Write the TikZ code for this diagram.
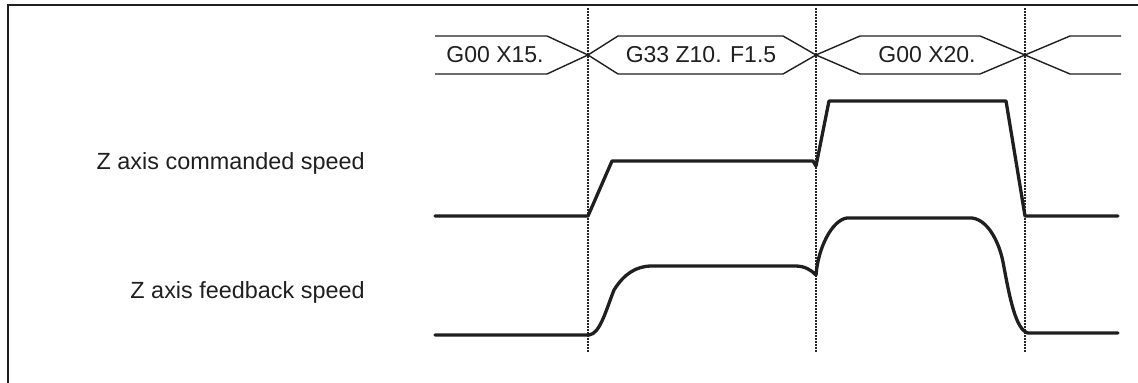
\documentclass[tikz,border=0pt]{standalone}
\usepackage{fontspec}
\setmainfont{Liberation Sans}
\begin{document}
\begin{tikzpicture}[x=0.5pt,y=-0.5pt,
  ink/.style={draw=black!88},
  frame/.style={ink,line width=1pt},
  guide/.style={draw=black!85,line width=0.6pt,dash pattern=on 1pt off 0.5pt},
  bus/.style={ink,line width=0.7pt,line join=miter},
  trace/.style={ink,line width=1.65pt,line join=round,line cap=round},
  lbl/.style={font=\fontsize{11.7}{14}\selectfont,text=black!88,inner sep=0pt},
  buslbl/.style={font=\fontsize{11.5}{14}\selectfont,text=black!88,inner sep=0pt}]
\useasboundingbox (0,0) rectangle (1138,383);
% frame (top and left sides visible)
\draw[frame] (8,390) -- (8,5) -- (1145,5);
% vertical guide lines
\draw[guide] (588,8) -- (588,353);
\draw[guide] (816,8) -- (816,353);
\draw[guide] (1025,8) -- (1025,353);
% command bus
\draw[bus] (435,36) -- (547,36) -- (588,55) -- (547,74) -- (435,74);
\draw[bus] (588,55) -- (618,36) -- (783,36) -- (816,55) -- (783,74) -- (618,74) -- cycle;
\draw[bus] (816,55) -- (860,36) -- (980,36) -- (1025,55) -- (980,74) -- (860,74) -- cycle;
\draw[bus] (1121,36) -- (1070,36) -- (1025,55) -- (1070,74) -- (1121,74);
\node[buslbl] (c1) at (495,55) {G00 X15.};
\node[buslbl] (c2) at (701,55) {G33 Z10. F1.5};
\node[buslbl] (c3) at (927,55) {G00 X20.};
% labels
\node[lbl,anchor=east] (lcmd) at (365,163) {Z axis commanded speed};
\node[lbl,anchor=east] (lfb) at (365,292) {Z axis feedback speed};
% commanded speed
\draw[trace] (435,216) -- (588,216) -- (612,161) -- (813,161) -- (816,166)
  -- (829,101) -- (1006,101) -- (1025,216) -- (1118,216);
% feedback speed
\draw[trace] (435,335) -- (589,335)
  .. controls (600,334) and (606,310) .. (614,290)
  .. controls (624,274) and (636,266) .. (652,266)
  -- (795,266)
  .. controls (805,266) and (811,270) .. (816,275)
  .. controls (818,248) and (832,220) .. (847,218)
  -- (972,218)
  .. controls (988,220) and (999,242) .. (1003,262)
  .. controls (1010,300) and (1016,330) .. (1028,333)
  -- (1118,333);
\end{tikzpicture}
\end{document}
